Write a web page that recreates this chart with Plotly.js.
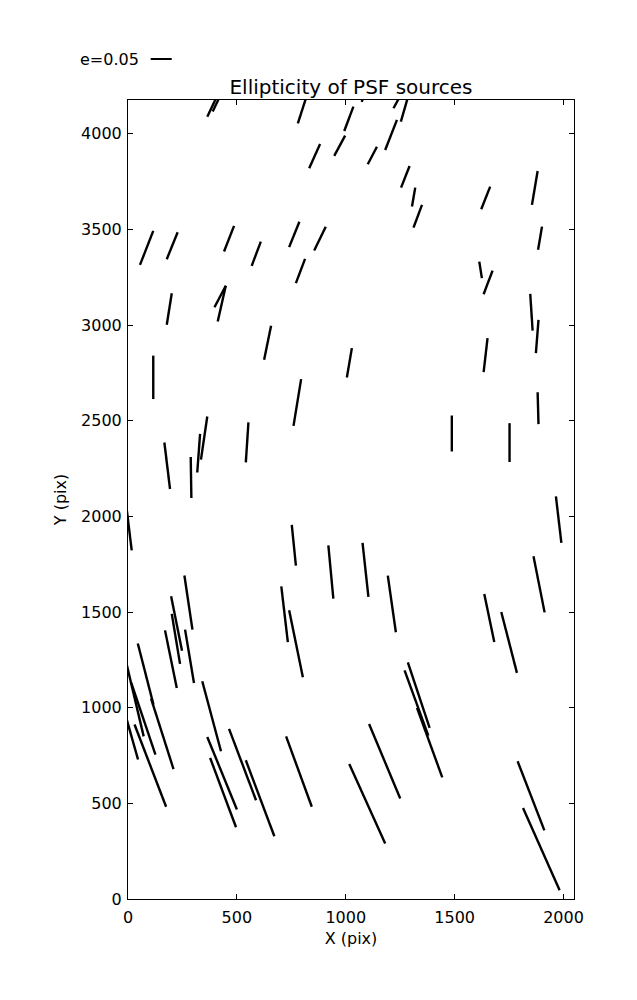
<!DOCTYPE html>
<html>
<head>
<meta charset="utf-8">
<script src="https://cdn.plot.ly/plotly-3.0.1.min.js"></script>
<style>
  html, body { margin: 0; padding: 0; background: #fff; }
  #chart { width: 637px; height: 1000px; }
</style>
</head>
<body>
<div id="chart"></div>
<script>
// Whisker end points (pix) for each PSF source
const x0 = [364, 389, 780, 993, 832, 947, 55, 178, 441, 568, 740, 855, 771, 178, 449, 449, 625, 1005, 116, 760, 167, 288, 318, 335, 541,
            1073, 1219, 1253, 1181, 1101, 1254, 1304, 1311, 1622, 1855, 1883, 1613, 1633, 1847, 1873, 1633, 1487, 1752, 1881, 1965,
            -5, 752, 920, 259, 198, 201, 170, 262, 704, 740, 45, 106, 341, -7, 15, -7, 30, 364, 377, 464, 541, 726,
            1107, 1016, 1285, 1270, 1327, 1789, 1814, 1077, 1193, 1636, 1714, 1862];
const y0 = [4089, 4116, 4054, 4014, 3819, 3884, 3314, 3344, 3384, 3309, 3407, 3389, 3219, 3001, 3205, 3205, 2818, 2726, 2613, 2473, 2386, 2310, 2229, 2296, 2282,
            4166, 4133, 4063, 3915, 3840, 3718, 3619, 3509, 3605, 3628, 3393, 3331, 3161, 3163, 2853, 2754, 2339, 2284, 2649, 2104,
            2029, 1956, 1848, 1691, 1582, 1490, 1404, 1408, 1634, 1509, 1335, 1047, 1138, 1230, 1129, 943, 912, 847, 738, 889, 725, 850,
            915, 706, 1237, 1195, 999, 720, 476, 1861, 1690, 1594, 1500, 1791];
const x1 = [416, 427, 825, 1035, 882, 997, 116, 228, 487, 610, 787, 908, 813, 201, 397, 412, 657, 1028, 116, 795, 193, 291, 331, 364, 553,
            1094, 1250, 1287, 1235, 1143, 1293, 1319, 1350, 1663, 1881, 1901, 1625, 1674, 1858, 1885, 1651, 1487, 1752, 1885, 1990,
            17, 771, 943, 296, 248, 239, 224, 303, 734, 803, 117, 209, 427, 72, 126, 46, 175, 500, 496, 588, 672, 844,
            1250, 1181, 1385, 1379, 1443, 1912, 1982, 1104, 1230, 1682, 1786, 1913];
const y1 = [4213, 4207, 4213, 4141, 3946, 3990, 3492, 3485, 3518, 3436, 3540, 3514, 3346, 3166, 3093, 3018, 2996, 2879, 2840, 2717, 2143, 2096, 2431, 2522, 2491,
            4228, 4197, 4197, 4072, 3932, 3831, 3718, 3628, 3723, 3805, 3514, 3245, 3284, 2971, 3027, 2931, 2527, 2487, 2482, 1861,
            1822, 1742, 1570, 1408, 1298, 1229, 1103, 1129, 1343, 1159, 1016, 679, 772, 850, 755, 729, 482, 468, 375, 516, 328, 482,
            525, 290, 894, 854, 636, 359, 46, 1579, 1394, 1343, 1182, 1498];

const keyLabel = 'e=0.05';
const titleText = 'Ellipticity of PSF sources';
const xTickVals = [0, 500, 1000, 1500, 2000];
const yTickVals = [0, 500, 1000, 1500, 2000, 2500, 3000, 3500, 4000];

const xs = [], ys = [];
for (let i = 0; i < x0.length; i++) {
  xs.push(x0[i], x1[i], null);
  ys.push(y0[i], y1[i], null);
}

const font = 'DejaVu Sans, sans-serif';
const trace = {
  x: xs, y: ys, type: 'scatter', mode: 'lines',
  line: { color: '#000', width: 2.4 },
  connectgaps: false, hoverinfo: 'skip', showlegend: false
};

const axisCommon = {
  showgrid: false, zeroline: false, showline: true, linecolor: '#000', linewidth: 1,
  mirror: 'ticks', ticks: 'inside', ticklen: 5, tickwidth: 1, tickcolor: '#000',
  tickfont: { family: font, size: 16, color: '#000' }, tickmode: 'array'
};

const layout = {
  width: 637, height: 1000,
  margin: { l: 128, r: 63, t: 100, b: 101 },
  paper_bgcolor: '#fff', plot_bgcolor: '#fff',
  font: { family: font, color: '#000' },
  title: { text: titleText, font: { family: font, size: 20, color: '#000' },
           x: 0.5, xref: 'paper', xanchor: 'center', y: 0.913, yref: 'container', yanchor: 'middle' },
  xaxis: Object.assign({}, axisCommon, {
    range: [0, 2048], tickvals: xTickVals, ticktext: xTickVals.map(String),
    ticklabelstandoff: 4,
    title: { text: 'X (pix)', font: { family: font, size: 16, color: '#000' }, standoff: 6 }
  }),
  yaxis: Object.assign({}, axisCommon, {
    range: [0, 4176], tickvals: yTickVals, ticktext: yTickVals.map(String),
    ticklabelstandoff: 2,
    title: { text: 'Y (pix)', font: { family: font, size: 16, color: '#000' }, standoff: 10 }
  }),
  shapes: [{
    type: 'line', xref: 'paper', yref: 'paper',
    x0: 0.0509, x1: 0.098, y0: 1.0513, y1: 1.0513,
    line: { color: '#000', width: 2 }
  }],
  annotations: [{
    text: keyLabel, xref: 'paper', yref: 'paper', x: 0.0291, y: 1.0513,
    xanchor: 'right', yanchor: 'middle', showarrow: false,
    font: { family: font, size: 16, color: '#000' }
  }]
};

Plotly.newPlot('chart', [trace], layout, { staticPlot: true, displayModeBar: false });
</script>
</body>
</html>
